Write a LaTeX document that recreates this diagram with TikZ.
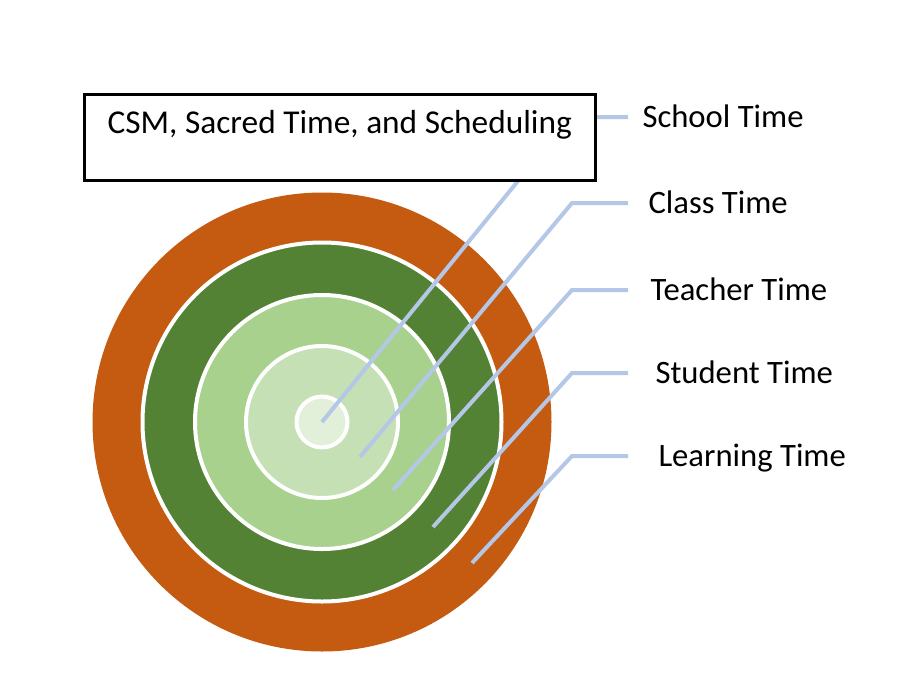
\documentclass[tikz,border=0pt]{standalone}
\usepackage{fontspec}
\setmainfont{Carlito}
\definecolor{ringOrange}{RGB}{197,90,17}
\definecolor{ringDark}{RGB}{84,130,53}
\definecolor{ringMid}{RGB}{169,209,142}
\definecolor{ringLight}{RGB}{197,224,180}
\definecolor{ringCore}{RGB}{226,240,217}
\definecolor{leaderBlue}{RGB}{180,199,231}

\tikzset{every picture/.style={line width=0.75pt}}
\tikzset{
  ring/.style={draw=white, line width=3pt},
  leaderline/.style={draw=leaderBlue, line width=3pt},
  timelabel/.style={anchor=base west, inner sep=0pt, font=\fontsize{24.5}{29}\selectfont},
  titlebox/.style={draw=black, fill=white, line width=2.25pt, anchor=north, inner sep=0pt, outer sep=0pt,
    minimum width=383.6pt, text height=29.6pt, text depth=34.9pt, font=\fontsize{25}{30}\selectfont},
}

\begin{document}
\begin{tikzpicture}[x=0.75pt,y=0.75pt,yscale=-1,xscale=1]
	%set diagram to 903 x 679
	\useasboundingbox (0,0) rectangle (903,679);
	\fill [white] (0,0) rectangle (903,679);
	
	\coordinate (c) at (322,422);
	%Shape: Circle, outer ring
	\fill [ringOrange] (c) circle (229.5);
	%Shape: Circle
	\filldraw [ring, fill=ringDark] (c) circle (179.5);
	%Shape: Circle
	\filldraw [ring, fill=ringMid] (c) circle (127);
	%Shape: Circle
	\filldraw [ring, fill=ringLight] (c) circle (76);
	%Shape: Circle, core
	\filldraw [ring, fill=ringCore] (c) circle (25.5);
	
	%leader lines: start, bend, end
	\coordinate (school-bend) at (570,117);
	\coordinate (school-end) at (628,117);
	\coordinate (class-in) at (360,457);
	\coordinate (class-bend) at (572,203);
	\coordinate (class-end) at (628,203);
	\coordinate (teacher-in) at (393,490);
	\coordinate (teacher-bend) at (572,290);
	\coordinate (teacher-end) at (628,290);
	\coordinate (student-in) at (433,527);
	\coordinate (student-bend) at (572,373);
	\coordinate (student-end) at (628,373);
	\coordinate (learning-in) at (472,563);
	\coordinate (learning-bend) at (572,456);
	\coordinate (learning-end) at (628,456);
	
	\draw [leaderline] (c) -- (school-bend) -- (school-end);
	\draw [leaderline] (class-in) -- (class-bend) -- (class-end);
	\draw [leaderline] (teacher-in) -- (teacher-bend) -- (teacher-end);
	\draw [leaderline] (student-in) -- (student-bend) -- (student-end);
	\draw [leaderline] (learning-in) -- (learning-bend) -- (learning-end);
	
	%Shape: Rectangle, title
	\node (title) [titlebox] at (339.75,94.5) {CSM, Sacred Time, and Scheduling};
	
	\node (school) [timelabel] at (642,127) {School Time};
	\node (class) [timelabel] at (648,213) {Class Time};
	\node (teacher) [timelabel] at (650,300) {Teacher Time};
	\node (student) [timelabel] at (655,383) {Student Time};
	\node (learning) [timelabel] at (658,466) {Learning Time};
	
\end{tikzpicture}
\end{document}
